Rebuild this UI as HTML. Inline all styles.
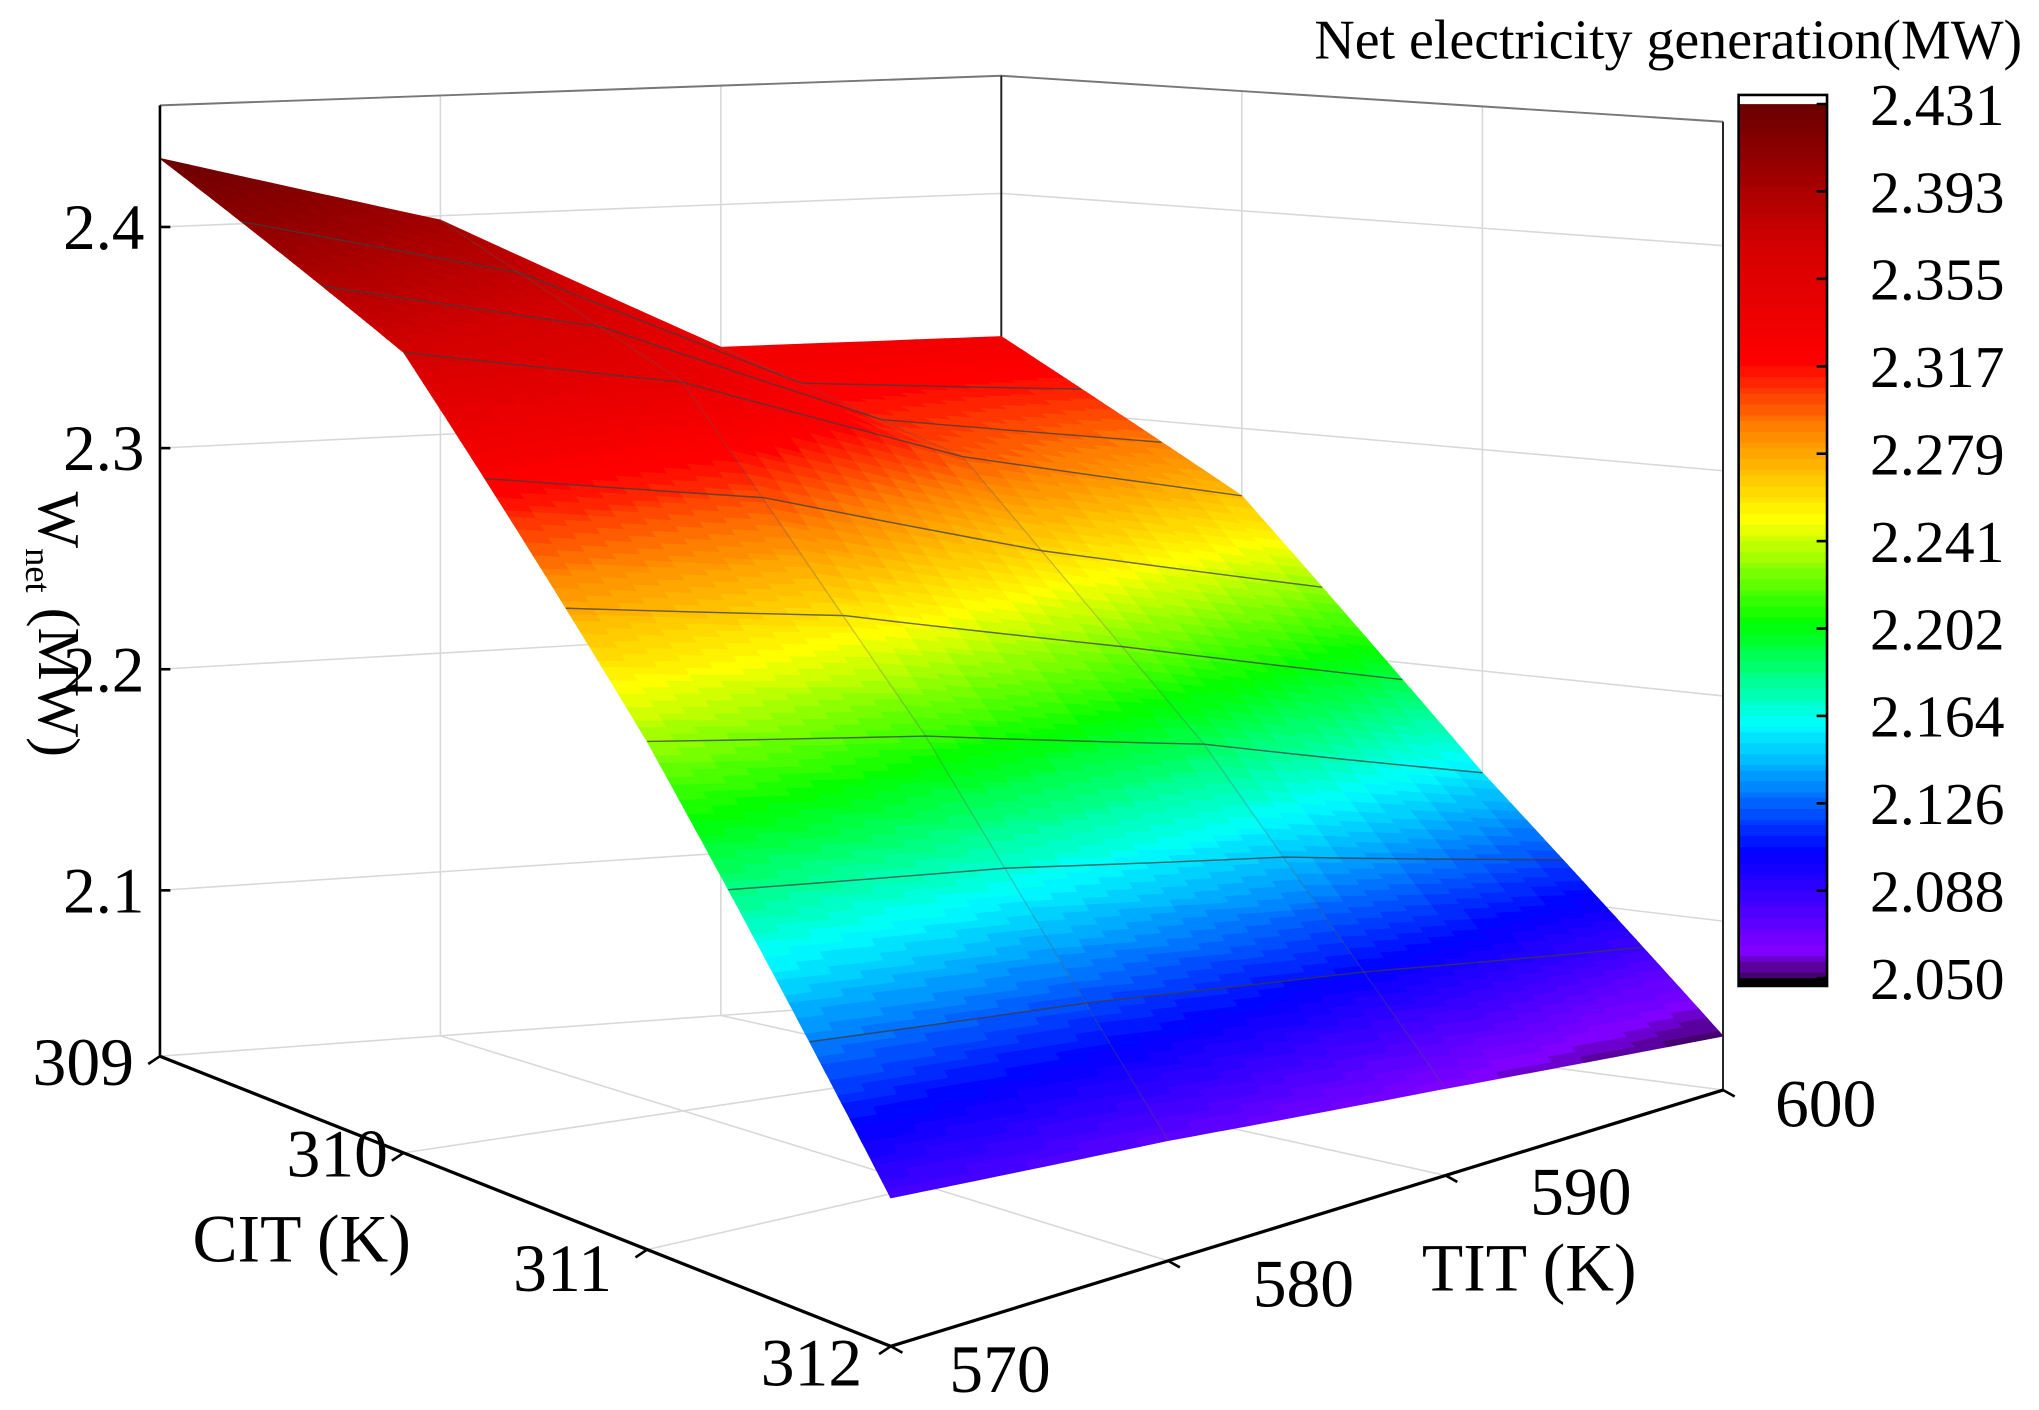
<!DOCTYPE html>
<html><head><meta charset="utf-8"><style>
html,body{margin:0;padding:0;background:#fff;}
svg{display:block;}
text{font-family:"Liberation Serif",serif;fill:#000;}
</style></head><body>
<svg id="chart" width="2039" height="1410" viewBox="0 0 1568 1084" preserveAspectRatio="none" xmlns="http://www.w3.org/2000/svg">
<g id="walls"></g>
<g id="surface"></g>
<g id="axes"></g>
<g id="cbar"></g>
<text x="1555" y="45" font-size="43" text-anchor="end">Net electricity generation(MW)</text>
<text x="232" y="970" font-size="52" text-anchor="middle">CIT (K)</text>
<text x="1176" y="992" font-size="52" text-anchor="middle">TIT (K)</text>
<text transform="translate(30,480) rotate(90)" font-size="46" text-anchor="middle">W<tspan font-size="28" dy="10">net</tspan><tspan dy="-10"> (MW)</tspan></text>
</svg>
<script>
const citVals=[309,310,311,312];
const titVals=[570,580,590,600];
// z[cit index][tit index]
const zRow309=[2.431,2.398,2.334,2.333];
const zRow310=[2.369,2.345,2.300,2.269];
const zRow311=[2.233,2.215,2.190,2.154];
const zRow312=[2.083,2.074,2.062,2.049];
const zTicks=[2.1,2.2,2.3,2.4];
const citTicks=[309,310,311,312];
const titTicks=[570,580,590,600];
const cbarLabels=["2.431","2.393","2.355","2.317","2.279","2.241","2.202","2.164","2.126","2.088","2.050"];
const zRows=[zRow309,zRow310,zRow311,zRow312];

const NS="http://www.w3.org/2000/svg";
const ZMIN=2.025, ZMAX=2.455;
const F00=[123,812],F10=[685,1035],F11=[1325,838],F01=[770,765];
function floor(c,t){
  const u=(c-309)/3, v=(t-570)/30;
  const x=(1-u)*(1-v)*F00[0]+u*(1-v)*F10[0]+u*v*F11[0]+(1-u)*v*F01[0];
  const y=(1-u)*(1-v)*F00[1]+u*(1-v)*F10[1]+u*v*F11[1]+(1-u)*v*F01[1];
  return [x,y];
}
function proj(c,t,z){const p=floor(c,t);const zs=1700+(p[1]-812)*1.2;return [p[0],p[1]-(z-ZMIN)*zs];}
function mk(tag,attrs,parent){const e=document.createElementNS(NS,tag);for(const k in attrs)e.setAttribute(k,attrs[k]);parent.appendChild(e);return e;}
const stops=[[2.050,[70,0,110]],[2.062,[127,0,255]],[2.105,[0,0,255]],[2.160,[0,255,255]],[2.205,[0,255,0]],[2.250,[255,255,0]],[2.290,[255,128,0]],[2.318,[255,0,0]],[2.370,[210,0,0]],[2.431,[105,0,0]]];
function cmap(z){
  z=Math.round((z-2.05)/0.004)*0.004+2.05;
  if(z<=stops[0][0])return 'rgb('+stops[0][1]+')';
  for(let i=1;i<stops.length;i++){if(z<=stops[i][0]){const a=stops[i-1],b=stops[i],f=(z-a[0])/(b[0]-a[0]);
    return 'rgb('+a[1].map((v,k)=>Math.round(v+(b[1][k]-v)*f)).join(',')+')';}}
  return 'rgb('+stops[stops.length-1][1]+')';
}
const walls=document.getElementById('walls');
const gl={stroke:'#d8d8d8','stroke-width':1.2,fill:'none'};
const top00=proj(309,570,ZMAX),top01=proj(309,600,ZMAX),top11=proj(312,600,ZMAX);
let e;
zTicks.forEach(z=>{const a=proj(309,570,z),b=proj(309,600,z),c=proj(312,600,z);
  e=mk('polyline',Object.assign({points:a+' '+b+' '+c},gl),walls);
  });
titTicks.forEach(t=>{const a=proj(309,t,ZMIN),b=proj(309,t,ZMAX),c=proj(312,t,ZMIN);
  e=mk('polyline',Object.assign({points:b+' '+a+' '+c},gl),walls);
  });
citTicks.forEach(c=>{const a=proj(c,600,ZMAX),b=proj(c,600,ZMIN),d=proj(c,570,ZMIN);
  e=mk('polyline',Object.assign({points:a+' '+b+' '+d},gl),walls);
  });
e=mk('polyline',{points:top00+' '+top01+' '+top11,stroke:'#777','stroke-width':1.5,fill:'none'},walls);

e=mk('line',{x1:top01[0],y1:top01[1],x2:F01[0],y2:F01[1],stroke:'#222','stroke-width':1.5},walls);

e=mk('line',{x1:top11[0],y1:top11[1],x2:F11[0],y2:F11[1],stroke:'#222','stroke-width':1.5},walls);


const surf=document.getElementById('surface');
const NU=60, NV=10;
function zAt(ci,ti,u,v){return (1-u)*(1-v)*zRows[ci][ti]+u*(1-v)*zRows[ci+1][ti]+u*v*zRows[ci+1][ti+1]+(1-u)*v*zRows[ci][ti+1];}
function zGlob(c,t){let ci=Math.min(2,Math.floor(c-309)),ti=Math.min(2,Math.floor((t-570)/10));
  return zAt(ci,ti,(c-citVals[ci]),(t-titVals[ti])/10);}
for(let ci=0;ci<3;ci++)for(let ti=0;ti<3;ti++){
  for(let a=0;a<NU;a++)for(let b=0;b<NV;b++){
    const pts=[[a,b],[a+1,b],[a+1,b+1],[a,b+1]].map(([i,j])=>{const u=i/NU,v=j/NV;
      const c=citVals[ci]+u*(citVals[ci+1]-citVals[ci]),t=titVals[ti]+v*(titVals[ti+1]-titVals[ti]);
      return proj(c,t,zAt(ci,ti,u,v)).map(n=>n.toFixed(1)).join(',');});
    const col=cmap(zAt(ci,ti,(a+.5)/NU,(b+.5)/NV));
    e=mk('polygon',{points:pts.join(' '),fill:col,stroke:col,'stroke-width':0.7},surf);
    
  }
}
for(let k=1;k<9;k++){const c=309+k/3;const pts=[];
  for(let t=570;t<=600;t+=2.5)pts.push(proj(c,t,zGlob(c,t)).map(n=>n.toFixed(1)).join(','));
  e=mk('polyline',{points:pts.join(' '),stroke:'rgba(60,60,60,0.75)','stroke-width':1.1,fill:'none'},surf);
  }
for(let ti=1;ti<3;ti++){const pts=citVals.map((c,ci)=>proj(c,titVals[ti],zRows[ci][ti]).join(','));
  e=mk('polyline',{points:pts.join(' '),stroke:'rgba(90,90,90,0.3)','stroke-width':1,fill:'none'},surf);
  }

const ax=document.getElementById('axes');
const zb=proj(309,570,ZMIN),zt=proj(309,570,ZMAX);
e=mk('line',{x1:zb[0],y1:zb[1],x2:zt[0],y2:zt[1],stroke:'#000','stroke-width':2},ax);

e=mk('polyline',{points:F00+' '+F10+' '+F11,stroke:'#000','stroke-width':2.5,fill:'none'},ax);

zTicks.forEach(z=>{const p=proj(309,570,z);
  e=mk('line',{x1:p[0],y1:p[1],x2:p[0]+8,y2:p[1],stroke:'#000','stroke-width':2},ax);
  
  e=mk('text',{x:p[0]-12,y:p[1]+17,'font-size':50,'text-anchor':'end'},ax);e.textContent=z.toFixed(1);
  });
const citDx=[-8,0,-15,-10],citDy=[22,18,32,30];
citTicks.forEach((c,i)=>{const p=floor(c,570);
  e=mk('line',{x1:p[0],y1:p[1],x2:p[0]-9,y2:p[1]+6,stroke:'#000','stroke-width':2},ax);
  
  e=mk('text',{x:p[0]-12+citDx[i],y:p[1]+citDy[i],'font-size':52,'text-anchor':'end'},ax);e.textContent=c;
  });
const titDx=[45,65,65,40],titDy=[35,35,30,28];
titTicks.forEach((t,i)=>{const p=floor(312,t);
  e=mk('line',{x1:p[0],y1:p[1],x2:p[0]+9,y2:p[1]+5,stroke:'#000','stroke-width':2},ax);
  
  e=mk('text',{x:p[0]+titDx[i],y:p[1]+titDy[i],'font-size':52,'text-anchor':'start'},ax);e.textContent=t;
  });

const cb=document.getElementById('cbar');
const CX=1337,CW=68,CT=80,CB=752;
const NB=160;
for(let i=0;i<NB;i++){const z=2.431-(i+.5)*(2.431-2.05)/NB;const y=CT+i*(CB-CT)/NB;
  e=mk('rect',{x:CX,y:y.toFixed(2),width:CW,height:((CB-CT)/NB+0.6).toFixed(2),fill:cmap(z)},cb);
  }
e=mk('rect',{x:CX,y:73,width:CW,height:7,fill:'#fff'},cb);
e=mk('rect',{x:CX,y:CB,width:CW,height:6,fill:'#000'},cb);
e=mk('rect',{x:CX,y:73,width:CW,height:685,fill:'none',stroke:'#000','stroke-width':2},cb);

cbarLabels.forEach((l,i)=>{const y=CT+i*(CB-CT)/(cbarLabels.length-1);
  e=mk('line',{x1:CX+CW-8,y1:y,x2:CX+CW,y2:y,stroke:'#000','stroke-width':2},cb);
  
  e=mk('text',{x:1438,y:y+16,'font-size':46},cb);e.textContent=l;
  });
</script>
</body></html>
